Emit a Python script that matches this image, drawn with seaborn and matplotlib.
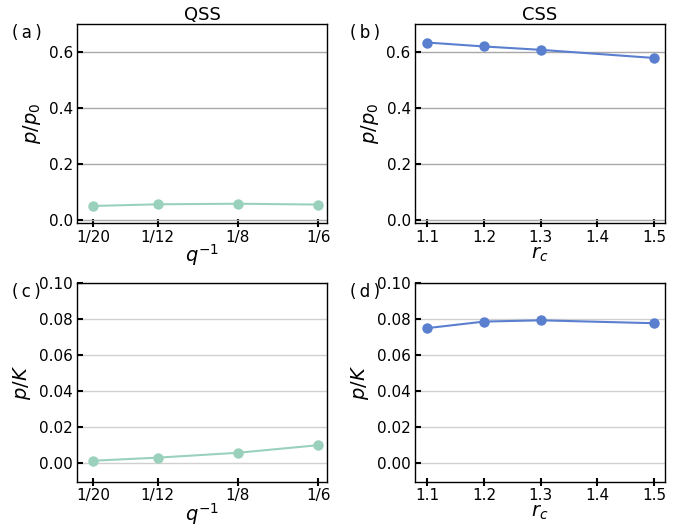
import matplotlib
matplotlib.use("Agg")
import matplotlib.pyplot as plt
import numpy as np
import pandas as pd
import seaborn as sns

# QSS: x = 1/q
q_inv = [1 / 20, 1 / 12, 1 / 8, 1 / 6]
q_labels = ["1/20", "1/12", "1/8", "1/6"]
qss_p_p0 = [0.050, 0.056, 0.058, 0.055]
qss_p_K = [0.0015, 0.0032, 0.0059, 0.0101]

# CSS: x = r_c
r_c = [1.1, 1.2, 1.3, 1.5]
r_ticks = [1.1, 1.2, 1.3, 1.4, 1.5]
css_p_p0 = [0.633, 0.619, 0.607, 0.578]
css_p_K = [0.0748, 0.0784, 0.0791, 0.0775]

green = "#99d1bc"
blue = "#5a7fcf"

sns.set_style("ticks")
plt.rcParams["font.family"] = ["DejaVu Sans"]
plt.rcParams["text.color"] = "black"
plt.rcParams["axes.labelcolor"] = "black"
plt.rcParams["xtick.color"] = "black"
plt.rcParams["ytick.color"] = "black"

fig, axes = plt.subplots(2, 2, figsize=(6.93, 5.28), dpi=100)
fig.subplots_adjust(left=0.111, right=0.96, top=0.955, bottom=0.088, wspace=0.35, hspace=0.3)

panels = [
    (axes[0, 0], q_inv, qss_p_p0, green, "(\u2009a\u2009)", r"$p/p_0$", r"$q^{-1}$", "#a8a8a8", -2),
    (axes[0, 1], r_c, css_p_p0, blue, "(\u2009b\u2009)", r"$p/p_0$", r"$r_c$", "#a8a8a8", 0),
    (axes[1, 0], q_inv, qss_p_K, green, "(\u2009c\u2009)", r"$p/K$", r"$q^{-1}$", "#d0d0d0", -2),
    (axes[1, 1], r_c, css_p_K, blue, "(\u2009d\u2009)", r"$p/K$", r"$r_c$", "#d0d0d0", 0),
]

for ax, xs, ys, col, tag, ylab, xlab, gcol, lpad in panels:
    df = pd.DataFrame({"x": xs, "y": ys})
    sns.lineplot(data=df, x="x", y="y", ax=ax, color=col, marker="o",
                 markersize=7.5, markeredgewidth=0, linewidth=1.5)
    ax.set_ylabel(ylab, fontsize=14)
    ax.set_xlabel(xlab, fontsize=14, labelpad=lpad)
    ax.grid(axis="y", color=gcol, linewidth=1.0)
    ax.set_axisbelow(True)
    ax.tick_params(axis="y", direction="in", length=4, width=1.5, labelsize=11, pad=3)
    ax.tick_params(axis="x", direction="inout", length=6, width=1.5, labelsize=11, pad=2)
    for s in ax.spines.values():
        s.set_linewidth(1.0)
        s.set_color("black")
    ax.text(-0.26, 1.0, tag, transform=ax.transAxes, fontsize=12, va="top", ha="left")

for ax in axes[:, 0]:
    ax.set_xticks(q_inv)
    ax.set_xticklabels(q_labels)
    ax.set_xlim(0.0415, 0.1713)
for ax in axes[:, 1]:
    ax.set_xticks(r_ticks)
    ax.set_xlim(1.078, 1.52)

for ax in axes[0]:
    ax.set_ylim(-0.01, 0.7)
    ax.set_yticks([0.0, 0.2, 0.4, 0.6])
for ax in axes[1]:
    ax.set_ylim(-0.01, 0.10)
    ax.set_yticks([0.0, 0.02, 0.04, 0.06, 0.08, 0.10])
    ax.yaxis.set_major_formatter(matplotlib.ticker.FormatStrFormatter("%.2f"))

axes[0, 0].set_title("QSS", fontsize=13, pad=3)
axes[0, 1].set_title("CSS", fontsize=13, pad=3)

fig.savefig("out.png", dpi=100)
